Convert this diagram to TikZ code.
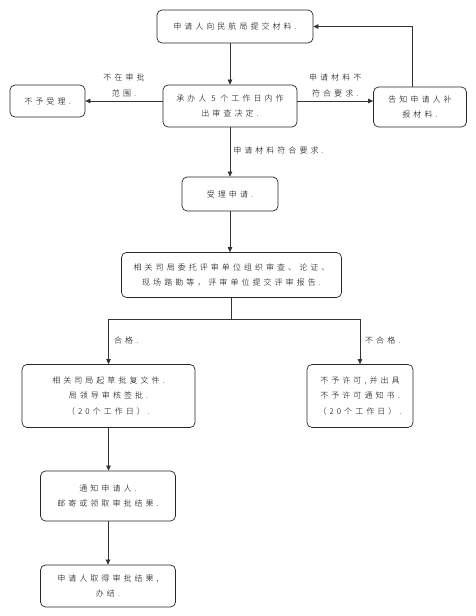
\documentclass[tikz,border=0pt]{standalone}
\usepackage{fontspec}
\newfontfamily\cjk[LetterSpace=38]{Noto Sans CJK SC Light}
\usetikzlibrary{arrows.meta}
\begin{document}
\begin{tikzpicture}[x=1pt,y=-1pt,
  every node/.style={font=\cjk\fontsize{8}{15.5}\selectfont},
  stepbox/.style={draw=black!85,line width=0.7pt,rounded corners=5pt,align=center,inner sep=0pt},
  flow/.style={draw=black!80,line width=0.6pt,-{Triangle[length=5pt,width=4.5pt]}},
  lab/.style={align=center,inner sep=1pt}]
\useasboundingbox (0,0) rectangle (476,616);
% boxes
\node[stepbox,minimum width=156,minimum height=33] (submit) at (235,26.5) {申请人向民航局提交材料.};
\node[stepbox,minimum width=75,minimum height=32] (reject) at (47.5,101) {不予受理.};
\node[stepbox,minimum width=134,minimum height=42] (review) at (230,106) {承办人 5 个工作日内作\\出审查决定.};
\node[stepbox,minimum width=93,minimum height=40] (notify) at (420,107) {告知申请人补\\报材料.};
\node[stepbox,minimum width=96,minimum height=34] (accept) at (230,194) {受理申请.};
\node[stepbox,minimum width=220,minimum height=45] (expert) at (231.5,275) {相关司局委托评审单位组织审查、论证、\\现场踏勘等，评审单位提交评审报告.};
\node[stepbox,minimum width=173,minimum height=63] (approve) at (108.5,396) {相关司局起草批复文件.\\局领导审核签批.\\（20个工作日）.};
\node[stepbox,minimum width=106,minimum height=63] (deny) at (360,396) {不予许可,并出具\\不予许可通知书.\\（20个工作日）.};
\node[stepbox,minimum width=135,minimum height=50] (inform) at (108,496) {通知申请人.\\邮寄或领取审批结果.};
\node[stepbox,minimum width=135,minimum height=42] (finish) at (108,586) {申请人取得审批结果,\\办结.};
% connectors
\draw[flow] (submit.south -| review.north) -- (review.north);
\draw[flow] (review.west |- reject.east) -- (reject.east)
  node[lab,midway,above=3pt] {不在审批\\范围.};
\draw[flow] (review.east |- reject.east) -- (notify.west |- reject.east)
  node[lab,midway,above=3pt] {申请材料不\\符合要求.};
\draw[flow] ([xshift=-8pt]notify.north) |- (submit.east);
\draw[flow] (review.south) -- (accept.north)
  node[lab,midway,anchor=west,xshift=2pt,yshift=2pt] {申请材料符合要求.};
\draw[flow] (accept.south) -- (expert.north -| accept.south);
\coordinate (split) at ([yshift=-21pt]expert.south);
\draw[draw=black!80,line width=0.6pt] (expert.south) -- (split);
\draw[flow] (split) -| (approve.north);
\draw[flow] (split) -| (deny.north);
\node[lab,anchor=west] (passlab) at (113,340) {合格.};
\node[lab,anchor=west] (faillab) at (364,340) {不合格.};
\draw[flow] (approve.south) -- (inform.north -| approve.south);
\draw[flow] (inform.south) -- (finish.north);
\end{tikzpicture}
\end{document}
